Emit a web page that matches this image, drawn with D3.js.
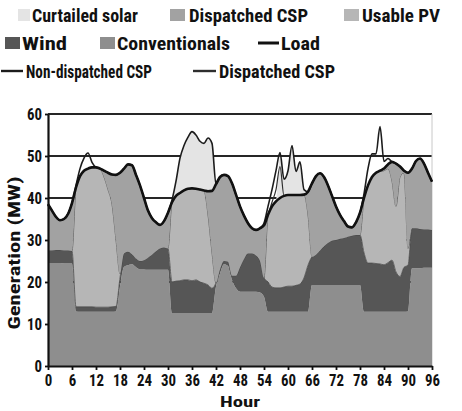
<!DOCTYPE html>
<html><head><meta charset="utf-8">
<script src="https://cdn.jsdelivr.net/npm/d3@7"></script>
<style>html,body{margin:0;padding:0;background:#fff;} svg{display:block;}</style>
</head><body><svg id="chart" width="462" height="411"></svg>
<script>
// ---------- DATA ----------
const hours = d3.range(0, 97);
const stackKeys = ["Conventionals", "Wind", "Usable PV", "Dispatched CSP", "Curtailed solar"];

const conventionals = [24.5,24.5,24.5,24.5,24.4,24.4,24.4,
  13.0,12.9,12.9,12.9,12.9,12.9,12.9,12.9,12.9,12.9,13.0,
  19.0,23.6,24.0,24.2,23.5,23.0,23.0,22.9,22.9,22.9,22.9,22.9,22.9,
  12.5,12.5,12.5,12.5,12.5,12.5,12.5,12.5,12.5,12.5,12.5,
  18.9,22.0,24.2,23.8,20.5,18.5,17.7,17.7,17.7,17.7,17.7,17.5,16.5,
  12.9,12.9,12.9,12.9,12.9,12.9,12.9,12.9,12.9,12.9,12.9,
  19.3,19.3,19.3,19.3,19.3,19.3,19.3,19.3,19.3,19.3,19.3,19.3,19.3,
  12.9,12.9,12.9,12.9,12.9,12.9,12.9,12.9,12.9,12.9,12.9,13.0,
  23.3,23.3,23.3,23.4,23.4,23.4];

const wind = [3.0,3.0,3.1,3.1,3.1,3.1,3.0,
  1.1,1.2,1.2,1.2,1.2,1.1,1.1,1.1,1.1,1.2,1.2,
  2.0,3.2,3.2,2.4,2.1,2.0,2.2,2.9,3.6,4.4,5.1,5.3,5.1,
  7.5,7.7,7.8,8.0,8.0,7.8,8.0,7.5,7.2,6.8,6.0,
  0.9,1.0,0.8,1.0,1.0,3.0,5.8,7.8,9.1,9.1,8.6,7.5,4.5,
  7.1,5.9,5.7,5.7,5.9,6.1,6.1,6.3,6.6,8.1,11.1,
  6.7,7.2,8.2,9.2,10.0,10.5,10.7,11.0,11.2,11.5,11.7,11.9,11.9,
  14.1,11.6,11.6,11.5,11.4,11.2,11.7,12.3,9.5,8.4,10.6,11.0,
  9.5,9.5,9.3,9.1,9.1,9.0];

const usablePV = [0,0,0,0,0,0,0,
  28.4,31.1,32.4,32.9,33.2,33.3,33.0,31.0,28.0,24.4,15.8,
  1.0,0,0,0,0,0,0,0,0,0,0,0,0,
  19.0,20.3,20.9,21.3,21.7,22.0,21.7,22.0,22.1,16.7,8.5,
  0,0,0,0,0,0,0,0,0,0,0,0,0,
  16.0,19.2,20.6,21.4,21.7,21.7,21.7,21.5,21.2,19.8,12.0,
  0,0,0,0,0,0,0,0,0,0,0,0,0,
  13.0,18.5,20.5,21.6,22.0,22.4,22.4,18.8,15.6,23.7,22.5,4.0,
  0,0,0,0,0,0];

const dispatchedCSP = [11.0,9.5,7.9,7.1,7.5,8.7,11.4,
  0,0,0,0,0,0,0,1.5,4.0,7.1,15.5,
  24.0,20.2,20.8,21.2,19.9,18.0,14.8,11.2,8.7,6.9,5.6,6.3,8.5,
  0,0,0,0,0,0,0,0,0,5.6,14.7,
  23.5,22.0,20.5,20.4,22.0,19.3,14.5,10.3,7.2,6.0,6.1,7.8,12.5,
  0,0,0,0,0,0,0,0,0,0,5.5,
  17.5,18.7,18.4,16.5,13.7,10.7,8.0,5.7,4.0,2.4,2.0,3.0,5.3,
  0,0,0,0,0.2,0.5,1.0,4.6,10.2,2.5,0.5,18.0,
  14.2,16.0,16.8,15.7,13.5,11.5];

const curtailedSolar = [0,0,0,0,0,0,0,
  0,0,0,0,0,0,0,0,0,0,0,
  0,0,0,0,0,0,0,0,0,0,0,0,0,
  0.5,3.5,8.3,10.7,12.3,13.5,12.8,11.5,11.2,12.7,11.3,
  0,0,0,0,0,0,0,0,0,0,0,0,0,
  0,0,0,10.0,4.0,5.8,11.8,5.6,7.9,1.2,0,
  0,0,0,0,0,0,0,0,0,0,0,0,0,
  0,0,0,0,0,0,0,0,0,0,0,0,
  0,0,0,0,0,0];

const load = [38.5,37.0,35.5,34.7,35.0,36.2,38.8,
  42.5,45.2,46.5,47.0,47.3,47.3,47.0,46.5,46.0,45.6,45.5,
  46.0,47.0,48.0,47.8,45.5,43.0,40.0,37.0,35.2,34.2,33.6,34.5,36.5,
  39.0,40.5,41.2,41.8,42.2,42.3,42.2,42.0,41.8,41.6,41.7,
  43.3,45.0,45.5,45.2,43.5,40.8,38.0,35.8,34.0,32.8,32.4,32.8,33.5,
  36.0,38.0,39.2,40.0,40.5,40.7,40.7,40.7,40.7,40.8,41.5,
  43.5,45.2,45.9,45.0,43.0,40.5,38.0,36.0,34.5,33.2,33.0,34.2,36.5,
  40.0,43.0,45.0,46.0,46.5,47.0,48.0,48.6,48.2,47.5,46.5,46.0,
  47.0,48.8,49.4,48.2,46.0,43.9];

const nonDispatchedCSPLine = [38.5,37.0,35.5,34.7,35.0,36.2,38.8,
  43.0,47.0,49.5,50.7,48.5,47.3,47.0,46.5,46.0,45.6,45.5,
  46.0,47.0,48.0,47.8,45.5,43.0,40.0,37.0,35.2,34.2,33.6,34.5,36.5,
  39.5,44.0,49.5,52.5,54.5,55.8,55.0,53.5,53.0,54.3,53.0,
  43.3,45.0,45.5,45.2,43.5,40.8,38.0,35.8,34.0,32.8,32.4,32.8,34.0,
  38.0,42.0,46.5,50.8,44.5,46.5,52.5,46.3,48.6,42.0,41.5,
  43.5,45.2,45.9,45.0,43.0,40.5,38.0,36.0,34.5,33.2,33.0,34.2,36.5,
  41.0,47.0,50.5,50.5,57.0,48.7,49.4,48.6,48.2,47.5,46.5,46.0,
  47.0,48.8,49.4,48.2,46.0,43.9];

const dispatchedCSPLine = [38.5,37.0,35.5,34.7,35.0,36.2,38.8,
  42.5,45.2,46.5,47.0,47.3,47.3,47.0,46.5,46.0,45.6,45.5,
  46.0,47.0,48.0,47.8,45.5,43.0,40.0,37.0,35.2,34.2,33.6,34.5,36.5,
  39.0,40.5,41.2,41.8,42.2,42.3,42.2,42.0,41.8,41.6,41.7,
  43.3,45.0,45.5,45.2,43.5,40.8,38.0,35.8,34.0,32.8,32.4,32.8,33.5,
  36.0,39.0,42.0,47.5,40.5,40.7,40.7,40.7,40.7,40.8,41.5,
  43.5,45.2,45.9,45.0,43.0,40.5,38.0,36.0,34.5,33.2,33.0,34.2,36.5,
  40.0,43.0,45.0,46.0,46.5,47.0,48.0,48.6,48.2,47.5,46.5,46.0,
  47.0,48.8,49.4,48.2,46.0,43.9];

const xTickValues = [0,6,12,18,24,30,36,42,48,54,60,66,72,78,84,90,96];
const xTickLabels = ["0","6","12","18","24","30","36","42","48","54","60","66","72","78","84","90","96"];
const yTickValues = [0,10,20,30,40,50,60];

// ---------- STYLE ----------
const colors = {
  "Conventionals": "#8e8e8e",
  "Wind": "#565656",
  "Usable PV": "#b6b6b6",
  "Dispatched CSP": "#a2a2a2",
  "Curtailed solar": "#e4e4e4"
};
const FONT = "'Liberation Sans Narrow','Roboto Condensed','DejaVu Sans Condensed','Liberation Sans',Arial,sans-serif";

[conventionals, wind, usablePV, dispatchedCSP, curtailedSolar, load, nonDispatchedCSPLine, dispatchedCSPLine]
  .forEach((a, i) => { if (a.length !== hours.length) console.error("length mismatch", i, a.length); });

const svg = d3.select("#chart");
const x = d3.scaleLinear().domain([0, 96]).range([48, 432]);
const y = d3.scaleLinear().domain([0, 60]).range([366, 114]);

const table = hours.map((h, i) => ({
  hour: h,
  "Conventionals": conventionals[i],
  "Wind": wind[i],
  "Usable PV": usablePV[i],
  "Dispatched CSP": dispatchedCSP[i],
  "Curtailed solar": curtailedSolar[i]
}));
const layers = d3.stack().keys(stackKeys)(table);

// gridlines + right frame
svg.append("g").selectAll("line").data(yTickValues.filter(v => v > 0)).join("line")
  .attr("x1", x(0)).attr("x2", x(96))
  .attr("y1", d => y(d)).attr("y2", d => y(d))
  .attr("stroke", "#262626").attr("stroke-width", 1.8);
svg.append("line").attr("x1", x(96)).attr("x2", x(96)).attr("y1", y(60)).attr("y2", y(0))
  .attr("stroke", "#c8c8c8").attr("stroke-width", 1);

// stacked areas
const area = d3.area()
  .x(d => x(d.data.hour))
  .y0(d => y(d[0])).y1(d => y(d[1]))
  .curve(d3.curveMonotoneX);
svg.append("g").selectAll("path").data(layers).join("path")
  .attr("d", area)
  .attr("fill", d => colors[d.key])
  .attr("stroke", d => d.key === "Usable PV" ? "#4a4a4a" : "none")
  .attr("stroke-width", 0.8);

// lines
const line = d3.line().x((d, i) => x(hours[i])).y(d => y(d)).curve(d3.curveMonotoneX);
svg.append("path").datum(nonDispatchedCSPLine).attr("d", line)
  .attr("fill", "none").attr("stroke", "#1c1c1c").attr("stroke-width", 1.6).attr("stroke-linejoin", "round");
svg.append("path").datum(dispatchedCSPLine).attr("d", line)
  .attr("fill", "none").attr("stroke", "#2e2e2e").attr("stroke-width", 1.2).attr("stroke-linejoin", "round");
svg.append("path").datum(load).attr("d", line)
  .attr("fill", "none").attr("stroke", "#111").attr("stroke-width", 2.6).attr("stroke-linejoin", "round");

// axes
const yAxis = svg.append("g").attr("transform", `translate(${x(0)},0)`)
  .call(d3.axisLeft(y).tickValues(yTickValues).tickSize(3).tickSizeOuter(0).tickPadding(3).tickFormat(d3.format("d")));
const xAxis = svg.append("g").attr("transform", `translate(0,${y(0)})`)
  .call(d3.axisBottom(x).tickValues(xTickValues).tickSize(4).tickSizeOuter(0).tickPadding(5)
    .tickFormat((d, i) => xTickLabels[i]));
[yAxis, xAxis].forEach(g => {
  g.select(".domain").attr("stroke", "#111").attr("stroke-width", 2.2);
  g.selectAll(".tick line").attr("stroke", "#111").attr("stroke-width", 1.8);
  g.selectAll(".tick text").attr("fill", "#111")
    .style("font-family", FONT).style("font-weight", "bold").style("font-size", "16px")
    .attr("textLength", function () { return this.textContent.length * 7.5; })
    .attr("lengthAdjust", "spacingAndGlyphs");
});

// axis titles
svg.append("text").attr("transform", "translate(20,253) rotate(-90)")
  .attr("text-anchor", "middle").attr("fill", "#111")
  .style("font-family", FONT).style("font-weight", "bold").style("font-size", "16px")
  .attr("textLength", 153).attr("lengthAdjust", "spacingAndGlyphs")
  .text("Generation (MW)");
svg.append("text").attr("x", 240).attr("y", 407)
  .attr("text-anchor", "middle").attr("fill", "#111")
  .style("font-family", FONT).style("font-weight", "bold").style("font-size", "15px")
  .attr("textLength", 40).attr("lengthAdjust", "spacingAndGlyphs")
  .text("Hour");

// legend
const legendItems = [
  {name: "Curtailed solar", type: "rect", sx: 18, sw: 12, row: 0, tx: 32, tl: 106},
  {name: "Dispatched CSP",  type: "rect", sx: 170, sw: 15, row: 0, tx: 189, tl: 119},
  {name: "Usable PV",       type: "rect", sx: 344, sw: 15, row: 0, tx: 362, tl: 78},
  {name: "Wind",            type: "rect", sx: 5, sw: 15, row: 1, tx: 22, tl: 45},
  {name: "Conventionals",   type: "rect", sx: 100, sw: 15, row: 1, tx: 117, tl: 113},
  {name: "Load",            type: "line", sx: 258, sw: 21, row: 1, tx: 281, tl: 39, stroke: "#111", width: 3},
  {name: "Non-dispatched CSP", type: "line", sx: 1, sw: 22, row: 2, tx: 26, tl: 126, stroke: "#1c1c1c", width: 2.4},
  {name: "Dispatched CSP",  type: "line", sx: 193, sw: 23, row: 2, tx: 219, tl: 116, stroke: "#2e2e2e", width: 2.4}
];
const rowBase = [22, 50, 78];
const lg = svg.append("g");
legendItems.forEach(it => {
  const base = rowBase[it.row];
  if (it.type === "rect") {
    lg.append("rect").attr("x", it.sx).attr("y", base - 13).attr("width", it.sw).attr("height", 12)
      .attr("fill", colors[it.name]);
  } else {
    lg.append("line").attr("x1", it.sx).attr("x2", it.sx + it.sw).attr("y1", base - 7).attr("y2", base - 7)
      .attr("stroke", it.stroke).attr("stroke-width", it.width);
  }
  lg.append("text").attr("x", it.tx).attr("y", base).attr("fill", "#111")
    .style("font-family", FONT).style("font-weight", "bold").style("font-size", "19px")
    .attr("textLength", it.tl).attr("lengthAdjust", "spacingAndGlyphs")
    .text(it.name);
});
</script>
</body></html>
